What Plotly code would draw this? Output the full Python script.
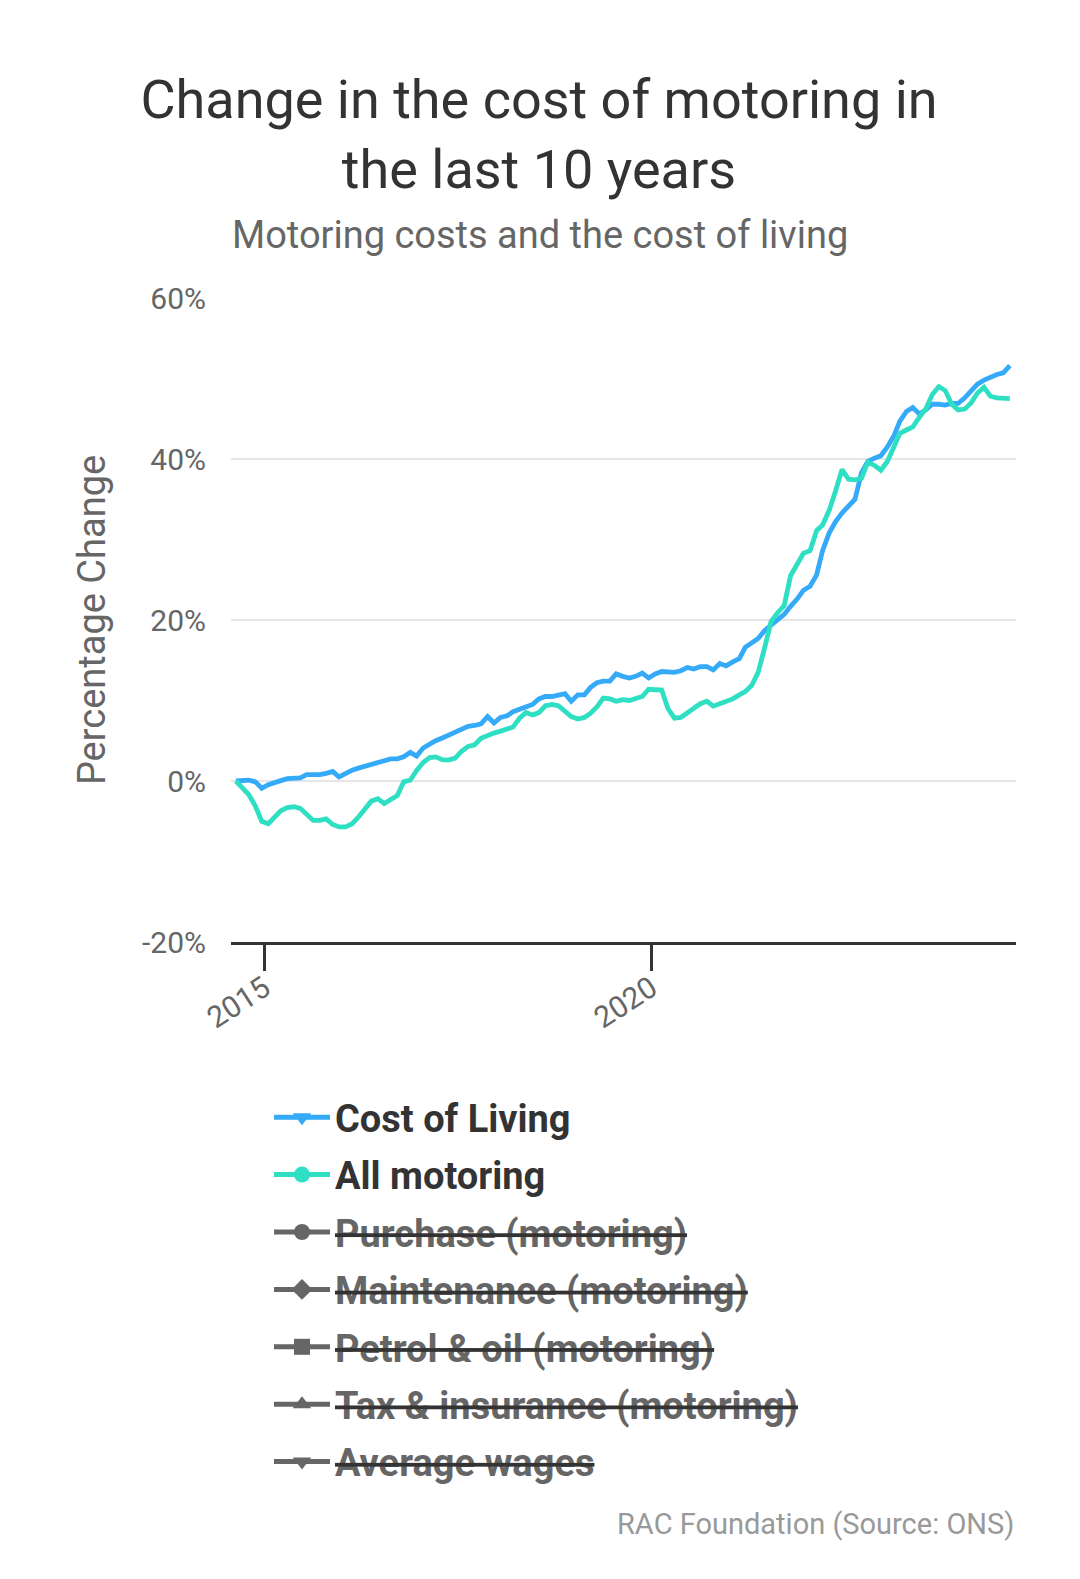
import pandas as pd
import plotly.graph_objects as go

# ---- data (percentage change since Aug 2014) ----
dates = pd.date_range("2014-08-20", periods=121, freq=pd.DateOffset(months=1))

cost_of_living = [
    0, 0.1, 0.1, -0.1, -0.9, -0.45, -0.25, 0.05, 0.3, 0.4,
    0.4, 0.8, 0.8, 0.8, 0.95, 1.2, 0.5, 1.0, 1.35, 1.6,
    1.85, 2.1, 2.35, 2.55, 2.75, 2.75, 3.0, 3.55, 3.1, 4.1,
    4.6, 5.0, 5.35, 5.7, 6.0, 6.5, 6.8, 6.9, 7.1, 8.0,
    7.2, 7.9, 8.1, 8.6, 8.9, 9.3, 9.5, 10.2, 10.5, 10.5,
    10.6, 10.85, 9.9, 10.7, 10.7, 11.6, 12.2, 12.4, 12.4, 13.3,
    13.0, 12.8, 13.0, 13.4, 12.8, 13.3, 13.6, 13.6, 13.5, 13.7,
    14.1, 13.9, 14.2, 14.2, 13.8, 14.6, 14.3, 14.8, 15.2, 16.6,
    17.1, 17.7, 18.7, 19.3, 19.9, 20.7, 21.7, 22.6, 23.7, 24.2,
    25.6, 28.6, 30.8, 32.2, 33.3, 34.1, 35.0, 38.3, 39.7, 40.1,
    40.4, 41.5, 42.9, 44.7, 45.9, 46.4, 45.6, 46.1, 46.8, 46.8,
    46.7, 46.9, 46.9, 47.6, 48.5, 49.3, 49.8, 50.2, 50.5, 50.7, 51.6,
]

all_motoring = [
    0, -0.9, -1.7, -3.1, -5.0, -5.3, -4.4, -3.7, -3.3, -3.2,
    -3.4, -4.2, -4.9, -4.9, -4.7, -5.4, -5.7, -5.7, -5.3, -4.5,
    -3.4, -2.5, -2.2, -2.8, -2.3, -1.8, -0.1, 0.1, 1.3, 2.3,
    2.9, 3.0, 2.65, 2.6, 2.85, 3.7, 4.3, 4.5, 5.3, 5.7,
    5.95, 6.2, 6.5, 6.7, 7.8, 8.5, 8.2, 8.5, 9.35, 9.5,
    9.35, 8.7, 8.0, 7.7, 7.9, 8.4, 9.2, 10.3, 10.2, 9.9,
    10.1, 10.0, 10.3, 10.5, 11.4, 11.3, 11.3, 9.0, 7.8, 7.9,
    8.5, 9.1, 9.6, 9.9, 9.3, 9.6, 9.9, 10.2, 10.7, 11.1,
    11.9, 13.5, 16.6, 19.8, 20.9, 21.8, 25.5, 26.8, 28.3, 28.6,
    31.1, 31.8, 33.6, 36.0, 38.7, 37.5, 37.4, 37.6, 39.6, 39.2,
    38.6, 39.7, 41.4, 43.2, 43.6, 44.0, 45.2, 46.2, 48.0, 49.0,
    48.5, 46.8, 46.1, 46.2, 47.0, 48.2, 48.9, 47.8, 47.6, 47.5, 47.5,
]

series_names = ["Cost of Living", "All motoring", "Purchase (motoring)",
                "Maintenance (motoring)", "Petrol & oil (motoring)",
                "Tax & insurance (motoring)", "Average wages"]
series_visible = [True, True, False, False, False, False, False]
series_symbols = ["triangle-down", "circle", "circle", "diamond", "square",
                  "triangle-up", "triangle-down"]
series_colors = ["#35aaf8", "#2fdfc4", "#666666", "#666666", "#666666",
                 "#666666", "#666666"]

y_ticks = [-20, 0, 20, 40, 60]
y_tick_labels = ["-20%", "0%", "20%", "40%", "60%"]
x_ticks = ["2015-01-01", "2020-01-01"]
x_tick_labels = ["2015", "2020"]

FONT = "Roboto"
W, H = 1080, 1579
L, R, T, B = 223, 72, 290, 645
PH = H - T - B
PW = W - L - R
BOTTOM = H - B  # pixel row of the plot bottom inside the figure


def py(pix):  # figure pixel row -> paper y
    return (BOTTOM - pix) / PH


def px(pix):  # figure pixel column -> paper x
    return (pix - L) / PW


fig = go.Figure()

# data lines
for name, vals, col in [(series_names[0], cost_of_living, series_colors[0]),
                        (series_names[1], all_motoring, series_colors[1])]:
    fig.add_trace(go.Scatter(x=dates, y=vals, mode="lines", name=name,
                             line=dict(color=col, width=4.8),
                             showlegend=False, legendgroup=name))

# legend entries
for name, vis, sym, col in zip(series_names, series_visible, series_symbols, series_colors):
    label = name if vis else f'<s><span style="color:#666666">{name}</span></s>'
    fig.add_trace(go.Scatter(x=[None], y=[None], mode="lines+markers", name=label,
                             line=dict(color=col, width=5),
                             marker=dict(symbol=sym, size=22, color=col),
                             legendgroup=name, showlegend=True))

fig.update_layout(
    width=W, height=H,
    paper_bgcolor="white", plot_bgcolor="white",
    margin=dict(l=L, r=R, t=T, b=B, autoexpand=False),
    font=dict(family=FONT, color="#666666"),
    title=dict(text="Change in the cost of motoring in<br>the last 10 years",
               x=531 / W, xanchor="center", xref="container",
               y=1 - 110 / H, yanchor="middle", yref="container",
               font=dict(family=FONT, size=54, color="#333333")),
    xaxis=dict(type="date", range=["2014-07-28", "2024-09-18"],
               tickvals=x_ticks, ticktext=x_tick_labels, tickangle=-33,
               ticks="outside", ticklen=26, tickwidth=3, tickcolor="#333333",
               showline=True, linecolor="#333333", linewidth=3,
               showgrid=False, zeroline=False, automargin=False,
               ticklabelstandoff=-12,
               tickfont=dict(family=FONT, size=30, color="#666666")),
    yaxis=dict(range=[-20, 60], tickvals=y_ticks, ticktext=y_tick_labels,
               showgrid=True, gridcolor="#e6e6e6", gridwidth=2,
               zeroline=False, showline=False, ticks="", automargin=False,
               ticklabelstandoff=24,
               tickfont=dict(family=FONT, size=30, color="#666666"),
               title=dict(text="Percentage Change", standoff=24,
                          font=dict(family=FONT, size=38, color="#666666"))),
    legend=dict(x=px(261), xanchor="left",
                y=py(1078), yanchor="top",
                traceorder="grouped", tracegroupgap=5, itemwidth=56,
                bgcolor="rgba(0,0,0,0)",
                font=dict(family=FONT, size=38, color="#333333", weight="bold")),
    annotations=[
        dict(text="Motoring costs and the cost of living", xref="paper", yref="paper",
             x=px(532), y=py(227), xanchor="center", yanchor="middle",
             showarrow=False, font=dict(family=FONT, size=38, color="#666666")),
        dict(text="RAC Foundation (Source: ONS)", xref="paper", yref="paper",
             x=1, y=py(1516), xanchor="right", yanchor="middle",
             showarrow=False, font=dict(family=FONT, size=29, color="#999999")),
    ],
)

fig.write_html("out.html")
